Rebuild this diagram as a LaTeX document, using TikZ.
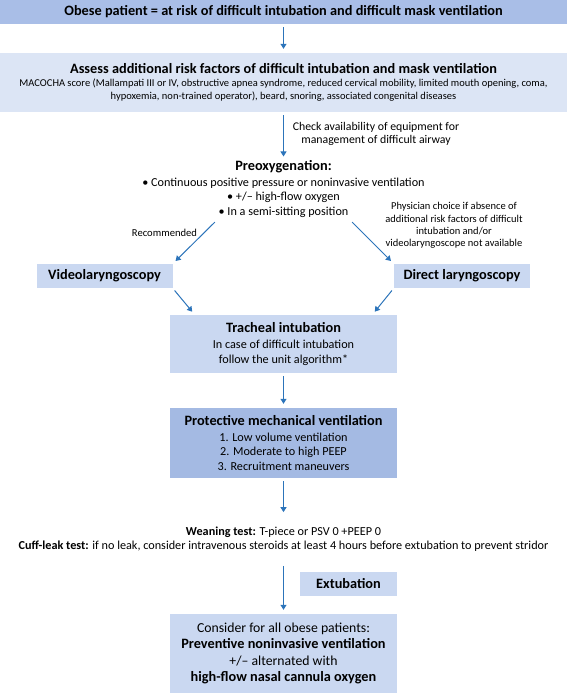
\documentclass[tikz,border=0pt]{standalone}
\usepackage{fontspec}
\setmainfont{Carlito}
\usetikzlibrary{calc,positioning,arrows.meta}
\definecolor{bandblue}{HTML}{A9BEE7}
\definecolor{paleblue}{HTML}{DCE5F5}
\definecolor{boxblue}{HTML}{CAD8F1}
\definecolor{deepbox}{HTML}{A4BAE3}
\definecolor{arrowblue}{HTML}{2C74BA}
\tikzset{
    >={Triangle[length=5pt,width=6pt]},
    band/.style={
        rectangle,
        inner sep=0pt,
        minimum width=567pt,
        align=center
    },
    stepbox/.style={
        rectangle,
        fill=boxblue,
        inner sep=0pt,
        minimum width=227pt,
        align=center,
        font={\fontsize{12.2}{15}\selectfont}
    },
    sidebox/.style={
        rectangle,
        fill=boxblue,
        inner sep=0pt,
        minimum height=24pt,
        font={\bfseries\fontsize{14.3}{16}\selectfont}
    },
    flow/.style={draw=arrowblue, line width=1pt, ->, shorten <=3pt, shorten >=4pt},
    note/.style={align=center, inner sep=0pt},
}
\newcommand{\boxhead}[1]{{\bfseries\fontsize{14.3}{16}\selectfont #1}}

\begin{document}
\begin{tikzpicture}[x=1pt, y=-1pt]
\useasboundingbox (0,0) rectangle (567,693);

% top bands
\node [band, fill=bandblue, minimum height=24pt,
  font={\bfseries\fontsize{14.3}{16}\selectfont}] (obese) at (283.5,12)
  {Obese patient = at risk of difficult intubation and difficult mask ventilation};
\node [band, fill=paleblue, minimum height=59pt,
  font={\fontsize{10.5}{13}\selectfont}] (assess) at (283.5,82.5)
  {\boxhead{Assess additional risk factors of difficult intubation and mask ventilation}\\
   MACOCHA score (Mallampati III or IV, obstructive apnea syndrome, reduced cervical mobility, limited mouth opening, coma,\\
   hypoxemia, non-trained operator), beard, snoring, associated congenital diseases};

\node [note, font={\fontsize{11.8}{13}\selectfont}] (checknote) at (376,133.5)
  {Check availability of equipment for\\ management of difficult airway};

% preoxygenation
\node [note, font={\fontsize{12.2}{14.5}\selectfont}] (preox) at (283.5,189)
  {\boxhead{Preoxygenation:}\\[1pt]
   \textbullet\ Continuous positive pressure or noninvasive ventilation\\
   \textbullet\ +/-- high-flow oxygen\\
   \textbullet\ In a semi-sitting position};
\coordinate (recstart) at (217,220);
\coordinate (physstart) at (350,220);

\node [note, font={\fontsize{10.6}{12.3}\selectfont}] (recnote) at (164.5,233) {Recommended};
\node [note, font={\fontsize{10.5}{12.3}\selectfont}] (physnote) at (454,225.5)
  {Physician choice if absence of\\ additional risk factors of difficult\\
   intubation and/or\\ videolaryngoscope not available};

% laryngoscopy
\node [sidebox, minimum width=136pt] (video) at (104.5,276) {Videolaryngoscopy};
\node [sidebox, minimum width=136pt] (direct) at (462,276) {Direct laryngoscopy};

% main column
\node [stepbox, minimum height=58pt] (tracheal) at (283.5,344)
  {\boxhead{Tracheal intubation}\\[1pt]
   In case of difficult intubation\\ follow the unit algorithm*};
\node [stepbox, fill=deepbox, minimum height=70pt,
  font={\fontsize{12.2}{14.7}\selectfont}] (protective) at (283.5,443)
  {\boxhead{Protective mechanical ventilation}\\[1pt]
   1. Low volume ventilation\\ 2. Moderate to high PEEP\\ 3. Recruitment maneuvers};
\node [note, inner ysep=11pt, font={\fontsize{12.2}{13.8}\selectfont}] (weaning) at (283.5,539.5)
  {\textbf{Weaning test:} T-piece or PSV 0 +PEEP 0\\
   \textbf{Cuff-leak test:} if no leak, consider intravenous steroids at least 4 hours before extubation to prevent stridor};
\node [sidebox, minimum width=97pt] (extub) at (348.5,584) {Extubation};
\node [stepbox, minimum height=79pt, font={\fontsize{13.75}{16.2}\selectfont}] (final) at (283.5,653.5)
  {Consider for all obese patients:\\ \boxhead{Preventive noninvasive ventilation}\\
   +/-- alternated with\\ \boxhead{high-flow nasal cannula oxygen}};

% connectors
\draw [flow] (obese) -- (assess);
\draw [flow] (assess) -- (preox);
\draw [flow] (recstart) -- (video.north east);
\draw [flow] (physstart) -- (direct.north west);
\draw [flow] (video.south east) -- ($(tracheal.north west)+(25,0)$);
\draw [flow] (direct.south west) -- ($(tracheal.north east)+(-25,0)$);
\draw [flow] (tracheal) -- (protective);
\draw [flow] (protective) -- (weaning);
\draw [flow] (weaning) -- (final);

\end{tikzpicture}
\end{document}
